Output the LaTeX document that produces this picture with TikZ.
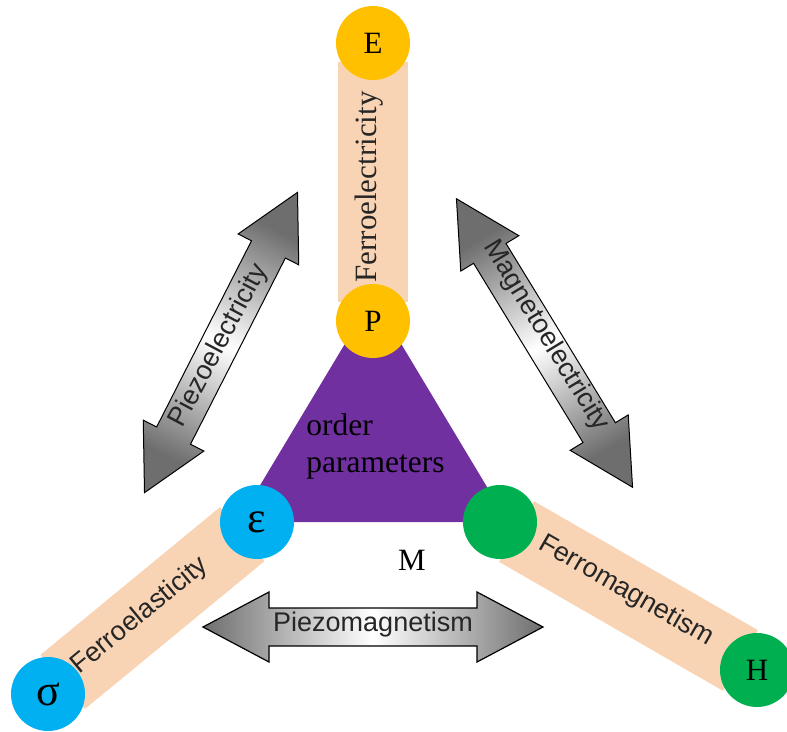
\documentclass[tikz,border=0pt]{standalone}
\usepackage{fontspec}
\setmainfont{Liberation Serif}
\newfontfamily\sansf{Liberation Sans}
\usetikzlibrary{calc}
\pgfdeclarelayer{bg}
\pgfsetlayers{bg,main}
\definecolor{ycol}{HTML}{FFC000}
\definecolor{bcol}{HTML}{00B0F0}
\definecolor{gcol}{HTML}{00B050}
\definecolor{pcol}{HTML}{7030A0}
\definecolor{peach}{HTML}{F9D4B4}
\definecolor{adark}{HTML}{6E6E6E}
\tikzset{
  circ/.style={circle, minimum size=74pt, inner sep=0pt, text=black,
    font=\fontsize{31}{36}\selectfont},
  greek/.style={font=\fontsize{44}{48}\selectfont},
  bar/.style={peach, line width=70pt, shorten <=19pt, shorten >=19pt},
  darrow/.style={draw=black, line width=1.2pt, left color=adark, right color=adark, middle color=white},
  slabel/.style={font=\sansf\fontsize{27}{30}\selectfont, text=black!85, inner sep=0pt},
  serlabel/.style={font=\fontsize{31}{36}\selectfont, text=black!85, inner sep=0pt}
}
\begin{document}
\begin{tikzpicture}[x=1pt,y=-1pt]
\useasboundingbox (0,0) rectangle (787,731);

% triangle
\coordinate (t1) at (373,297);
\coordinate (t2) at (238,522);
\coordinate (t3) at (508,522);
\fill[pcol] (t1) -- (t2) -- (t3) -- cycle;
\node[font=\fontsize{31.5}{37}\selectfont, align=left, inner sep=0pt] (op) at (375.5,446) {order\\parameters};
\node[font=\fontsize{31}{36}\selectfont, inner sep=0pt] (Mlab) at (412,560) {M};

% double arrows
\begin{scope}[shift={(373,627)}]
\shade[darrow] (-170,0) -- (-104,-35) -- (-104,-19) -- (104,-19) -- (104,-35) -- (170,0) -- (104,35) -- (104,19) -- (-104,19) -- (-104,35) -- cycle;
\end{scope}
\node[slabel] (pm) at (373,625) {Piezomagnetism};

\begin{scope}[shift={(221,342.5)}, rotate=63]
\shade[darrow, line width=1pt, shading angle=153] (-168.5,0) -- (-104.5,-34) -- (-104.5,-19) -- (104.5,-19) -- (104.5,-34) -- (168.5,0) -- (104.5,34) -- (104.5,19) -- (-104.5,19) -- (-104.5,34) -- cycle;
\end{scope}
\node[slabel, rotate=62] (pe) at (219,346) {Piezoelectricity};

\begin{scope}[shift={(544.5,343)}, rotate=-58.6]
\shade[darrow, line width=1pt, shading angle=31.4] (-169,0) -- (-105,-34) -- (-105,-19) -- (105,-19) -- (105,-34) -- (169,0) -- (105,34) -- (105,19) -- (-105,19) -- (-105,34) -- cycle;
\end{scope}
\node[slabel, rotate=-58.6] (me) at (546,336) {Magnetoelectricity};

% circles
\node[circ, fill=ycol] (E) at (373,43) {E};
\node[circ, fill=ycol] (P) at (373,321) {P};
\node[circ, greek, fill=bcol] (eps) at (257,522) {ε};
\node[circ, fill=gcol] (mag) at (500,522) {};
\node[circ, greek, fill=bcol] (sig) at (48,694) {σ};
\node[circ, fill=gcol] (H) at (757,670) {H};

% bars
\begin{pgfonlayer}{bg}
\draw[bar] (E.center) -- (P.center);
\draw[bar] (eps.center) -- (sig.center);
\draw[bar] (mag.center) -- (H.center);
\end{pgfonlayer}

\node[serlabel, rotate=90] (fe) at (369,187) {Ferroelectricity};
\node[slabel, rotate=39.5] (fel) at (140,616) {Ferroelasticity};
\node[slabel, rotate=-29.9] (fm) at (626,591) {Ferromagnetism};
\end{tikzpicture}
\end{document}
